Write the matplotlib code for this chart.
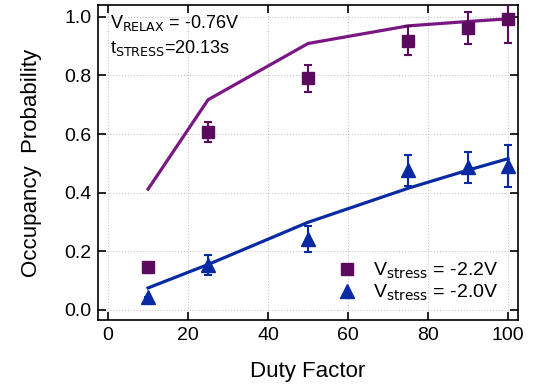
import numpy as np
import matplotlib.pyplot as plt

plt.rcParams['font.family'] = ['Liberation Sans', 'DejaVu Sans']

# measured points
duty = np.array([10, 25, 50, 75, 90, 100])
p_22 = np.array([0.148, 0.607, 0.79, 0.918, 0.963, 0.992])
err_22 = np.array([0.0, 0.035, 0.045, 0.05, 0.055, 0.08])
p_20 = np.array([0.045, 0.153, 0.242, 0.477, 0.486, 0.49])
err_20 = np.array([0.0, 0.035, 0.045, 0.053, 0.053, 0.072])

# model curves
fit_22 = np.array([0.412, 0.717, 0.909, 0.969, 0.984, 0.993])
fit_20 = np.array([0.075, 0.155, 0.299, 0.415, 0.477, 0.516])

purple_line = '#7a1784'
purple = '#5c0a5e'
blue = '#0a2aa3'

fig = plt.figure(figsize=(5.33, 3.9), dpi=100)
ax = fig.add_axes([0.184, 0.179, 0.788, 0.808])

ax.plot(duty, fit_22, color=purple_line, lw=2.3, zorder=2)
ax.plot(duty, fit_20, color=blue, lw=2.3, zorder=2)

ax.errorbar(duty, p_22, yerr=err_22, fmt='none', ecolor=purple,
            elinewidth=1.5, capsize=3, capthick=1.5, zorder=3)
ax.errorbar(duty, p_20, yerr=err_20, fmt='none', ecolor=blue,
            elinewidth=1.5, capsize=3, capthick=1.5, zorder=3)
ax.plot(duty, p_22, 's', color=purple, ms=9, ls='none', zorder=4,
        label=r'V$_{\mathrm{stress}}$ = -2.2V')
ax.plot(duty, p_20, '^', color=blue, ms=10, ls='none', zorder=4,
        label=r'V$_{\mathrm{stress}}$ = -2.0V')

ax.set_xlim(-2.5, 102.5)
ax.set_ylim(-0.035, 1.04)
ax.set_xticks(np.arange(0, 101, 20))
ax.set_yticks(np.arange(0, 1.01, 0.2))
ax.yaxis.set_major_formatter(plt.FormatStrFormatter('%.1f'))
ax.grid(True, color='#c8c8c8', ls=':', lw=0.8)
ax.tick_params(direction='in', length=6, width=1.2, top=True, right=True,
               labelsize=14, colors='black', pad=5)
for s in ax.spines.values():
    s.set_linewidth(1.2)

ax.set_xlabel('Duty Factor', fontsize=16, labelpad=12)
ax.set_ylabel('Occupancy  Probability', fontsize=16, labelpad=16)

ax.text(0.028, 0.975, r'V$_{\mathrm{RELAX}}$ = -0.76V', transform=ax.transAxes,
        fontsize=13, va='top')
ax.text(0.028, 0.895, r't$_{\mathrm{STRESS}}$=20.13s', transform=ax.transAxes,
        fontsize=13, va='top')

ax.legend(loc='lower right', bbox_to_anchor=(0.97, 0.03), frameon=False,
          fontsize=14, handletextpad=0.7, borderaxespad=0.0,
          labelspacing=0.1, handlelength=1.2)

fig.savefig('out.png', dpi=100)
